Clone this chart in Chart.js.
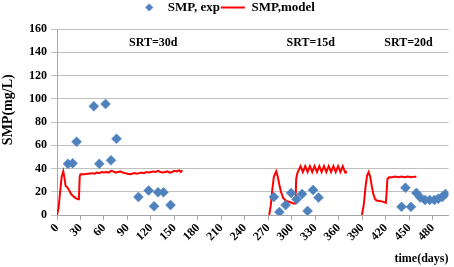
<!DOCTYPE html>
<html>
<head>
<meta charset="utf-8">
<script src="https://cdn.jsdelivr.net/npm/chart.js@4"></script>
<style>
  html, body { margin: 0; padding: 0; background: #fff; }
  #wrap { width: 454px; height: 267px; }
</style>
</head>
<body>
<div id="wrap"><canvas id="myChart" width="454" height="267"></canvas></div>
<script>
// measured SMP (days, mg/L)
var expDays = [14, 20, 25, 47, 54, 62, 69, 76, 104, 117, 124, 129, 136, 145,
               277, 284, 292, 299, 306, 313, 320, 327, 334,
               440, 445, 452, 459, 464, 470, 476, 482, 487, 492, 496];
var expSMP  = [44, 44.5, 63, 93.5, 44, 95.5, 47, 65.5, 15.5, 21, 7.5, 19.5, 19.5, 8.5,
               15.5, 2.5, 8.5, 19, 13.5, 18, 3.5, 21.5, 15,
               7, 23.5, 7, 19, 15, 13, 13, 13, 14, 15.5, 18];

// model SMP, three SRT periods
var modelDays = [0, 2, 4, 6, 8, 10, 11, 13, 15, 18, 21, 24, 27, 28, 29, 30, 35, 40, 45, 48, 51, 54, 57, 60,
                 63, 66, 69, 72, 75, 78, 81, 84, 87, 90, 93, 96, 99, 102, 105, 108, 111, 114, 117, 120,
                 123, 126, 129, 132, 135, 138, 141, 144, 147, 150, 153, 156, 158, 160,
                 165,
                 271, 273, 275, 277, 280, 282, 284, 286, 289, 293, 298, 302, 304.5, 305.5, 307,
                 311, 314, 317, 320, 323, 326, 329, 332, 335, 338, 341, 344, 347, 350, 353, 356,
                 359, 362, 365, 368, 369,
                 375,
                 389.5, 392, 394, 396, 398, 400, 402, 404, 406, 408, 412, 416, 420, 421, 422, 424,
                 428, 432, 436, 440, 444, 448, 452, 456, 459];
var modelSMP = [0, 6, 20, 33, 37.5, 30, 25, 24, 22, 18, 16, 14.5, 13.5, 14, 33, 35, 35, 35.5, 36, 35.5, 36.5, 36, 37, 36.5,
                37, 36.5, 38, 37.5, 36.5, 37, 37.5, 36.5, 36, 35.5, 35, 35.5, 36, 35.5, 36, 36.5, 36, 37, 36.5, 37,
                37.5, 37, 38, 37, 36.5, 37, 37.5, 36.5, 37, 38, 37.5, 38.5, 37, 38.5,
                null,
                0, 8, 22, 33, 37.5, 33, 26, 20, 14.5, 12, 11, 10, 10, 31, 36,
                42, 37, 42, 37, 42, 37, 42, 37, 42, 37, 42, 37, 42, 37, 42, 37,
                42, 37, 42, 36.5, 38,
                null,
                0, 10, 24, 34, 37, 33, 25, 18, 14, 12.5, 12, 11.5, 10.5, 20, 31, 32.5,
                32.5, 33, 32.5, 33, 32.5, 33, 32.5, 33, 33];

var xTicks = [0, 30, 60, 90, 120, 150, 180, 210, 240, 270, 300, 330, 360, 390, 420, 450, 480];
var srtLabels = ['SRT=30d', 'SRT=15d', 'SRT=20d'];

var expPoints = [];
for (var i = 0; i < expDays.length; i++) {
  expPoints.push({ x: expDays[i], y: expSMP[i] });
}
var modelPoints = [];
for (var i = 0; i < modelDays.length; i++) {
  modelPoints.push({ x: modelDays[i], y: modelSMP[i] });
}

// small diamond for the legend
var diamond = document.createElement('canvas');
diamond.width = 9; diamond.height = 9;
var dctx = diamond.getContext('2d');
dctx.fillStyle = '#4F81BD';
dctx.beginPath();
dctx.moveTo(4.5, 0.5); dctx.lineTo(8.5, 4.5); dctx.lineTo(4.5, 8.5); dctx.lineTo(0.5, 4.5);
dctx.closePath();
dctx.fill();

var serif = 'Liberation Serif';

// SRT text above each period
var srtPlugin = {
  id: 'srt',
  afterDatasetsDraw: function(chart) {
    var ctx = chart.ctx;
    var at = [123, 324, 449];
    ctx.save();
    ctx.font = 'bold 12px "' + serif + '"';
    ctx.fillStyle = '#000';
    ctx.textAlign = 'center';
    ctx.textBaseline = 'middle';
    for (var i = 0; i < srtLabels.length; i++) {
      ctx.fillText(srtLabels[i], chart.scales.x.getPixelForValue(at[i]), chart.scales.y.getPixelForValue(148));
    }
    ctx.restore();
  }
};

var ctx = document.getElementById('myChart').getContext('2d');
var chart = new Chart(ctx, {
  type: 'scatter',
  data: {
    datasets: [{
      label: 'SMP, exp',
      data: expPoints,
      pointStyle: 'rectRot',
      pointRadius: 5,
      pointBackgroundColor: '#4F81BD',
      pointBorderColor: '#5B8CC4',
      pointBorderWidth: 0.5,
      showLine: false,
      order: 1
    }, {
      label: 'SMP,model',
      data: modelPoints,
      showLine: true,
      spanGaps: false,
      borderColor: '#FF0000',
      backgroundColor: '#FF0000',
      borderWidth: 2,
      pointRadius: 0,
      pointStyle: 'line',
      tension: 0,
      order: 2
    }]
  },
  options: {
    responsive: false,
    animation: false,
    layout: { padding: { top: 0, right: 2, left: 0, bottom: 1 } },
    plugins: {
      tooltip: { enabled: false },
      title: { display: true, text: '', padding: 0, font: { size: 5, lineHeight: 1 } },
      legend: {
        position: 'top',
        weight: 3000,
        labels: {
          usePointStyle: true,
          pointStyleWidth: 24,
          padding: 1,
          color: '#000',
          font: { family: serif, size: 13, weight: 'bold' },
          generateLabels: function(chart) {
            var items = Chart.defaults.plugins.legend.labels.generateLabels(chart);
            items[0].pointStyle = diamond;
            return items;
          }
        }
      }
    },
    scales: {
      x: {
        type: 'linear',
        min: 0,
        max: 500,
        grid: { display: true, drawOnChartArea: false, drawTicks: true, tickLength: 5, color: '#A6A6A6' },
        border: { color: '#A6A6A6' },
        afterBuildTicks: function(scale) {
          scale.ticks = xTicks.map(function(v) { return { value: v }; });
        },
        ticks: {
          autoSkip: false,
          minRotation: 45,
          maxRotation: 45,
          padding: 1,
          color: '#000',
          font: { family: serif, size: 12, weight: 'bold' }
        },
        title: {
          display: true,
          text: 'time(days)',
          align: 'end',
          color: '#000',
          padding: { top: 0, bottom: 0 },
          font: { family: serif, size: 12, weight: 'bold' }
        },
        afterFit: function(scale) { scale.height = 51; }
      },
      y: {
        min: 0,
        max: 160,
        grid: { color: '#BFBFBF', tickLength: 6, lineWidth: 1 },
        border: { color: '#A6A6A6' },
        ticks: {
          stepSize: 20,
          padding: 4,
          color: '#000',
          font: { family: serif, size: 12, weight: 'bold' }
        },
        title: {
          display: true,
          text: '       SMP(mg/L)',
          color: '#000',
          padding: { top: 0, bottom: 0 },
          font: { family: serif, size: 14, weight: 'bold' }
        },
        afterFit: function(scale) { scale.width = 57; }
      }
    }
  },
  plugins: [srtPlugin]
});
</script>
</body>
</html>
